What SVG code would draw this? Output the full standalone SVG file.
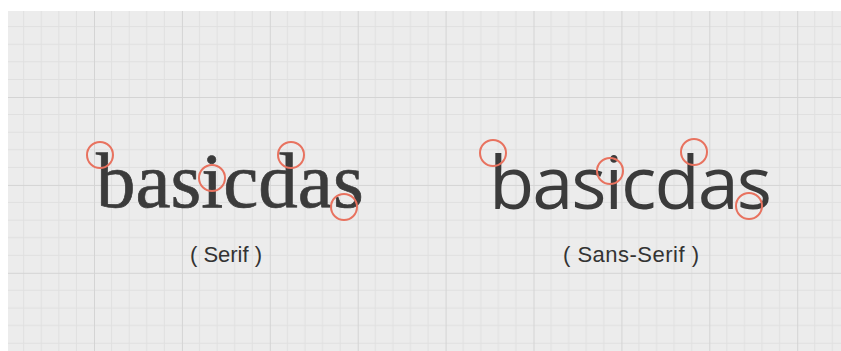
<svg xmlns="http://www.w3.org/2000/svg" width="841" height="351" viewBox="0 0 841 351">
  <style>
    .word-serif { font-family: "Liberation Serif", serif; font-size: 79px; fill: #3b3b3b; stroke: #3b3b3b; stroke-width: 0.7px; }
    .word-sans { font-family: "Open Sans", "Noto Sans", sans-serif; font-size: 74px; fill: #3b3b3b; }
    .label { font-family: "Liberation Sans", Arial, sans-serif; font-size: 22px; fill: #333333; text-anchor: middle; }
    .mark { fill: none; stroke: #e8725f; stroke-width: 2; }
  </style>
  <defs>
    <pattern id="grid" x="94" y="97" width="87.9" height="87.9" patternUnits="userSpaceOnUse">
      <path d="M17.58 0V87.9M35.16 0V87.9M52.74 0V87.9M70.32 0V87.9M0 17.58H87.9M0 35.16H87.9M0 52.74H87.9M0 70.32H87.9" stroke="#e0e0e0" stroke-width="1" fill="none"/>
      <path d="M0.5 0V87.9M0 0.5H87.9" stroke="#d4d4d4" stroke-width="1" fill="none"/>
    </pattern>
  </defs>
  <rect width="841" height="351" fill="#ffffff"/>
  <rect x="8" y="11" width="833" height="340" fill="#ececec"/>
  <rect x="8" y="11" width="833" height="340" fill="url(#grid)"/>

  <g id="serif-example">
    <text class="word-serif" x="96" y="207">basicdas</text>
    <circle class="mark" cx="100" cy="155" r="13"/>
    <circle class="mark" cx="212" cy="178" r="13"/>
    <circle class="mark" cx="291" cy="155" r="13"/>
    <circle class="mark" cx="344" cy="207" r="13"/>
    <text class="label" x="226" y="262">( Serif )</text>
  </g>

  <g id="sans-example">
    <text class="word-sans" x="489" y="209" textLength="283" lengthAdjust="spacing">basicdas</text>
    <circle class="mark" cx="493" cy="153" r="13"/>
    <circle class="mark" cx="610" cy="171" r="13"/>
    <circle class="mark" cx="694" cy="152" r="13"/>
    <circle class="mark" cx="749" cy="206" r="13"/>
    <text class="label" x="631" y="262" textLength="136" lengthAdjust="spacing">( Sans-Serif )</text>
  </g>
</svg>
